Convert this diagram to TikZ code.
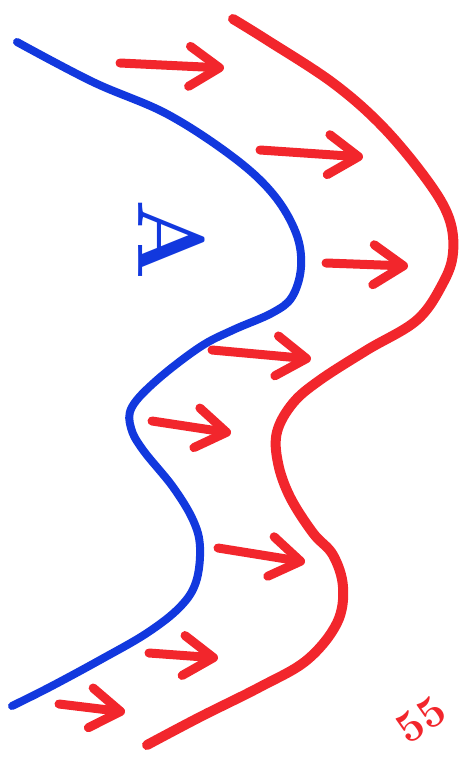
\documentclass[tikz,border=0pt]{standalone}
\usetikzlibrary{arrows.meta}
\definecolor{penblue}{RGB}{18,56,222}
\definecolor{penred}{RGB}{242,38,44}
\tikzset{
  bluepen/.style={draw=penblue,line width=8pt,line cap=round,line join=round},
  redpen/.style={draw=penred,line width=10pt,line cap=round,line join=round},
  flowarrow/.style={draw=penred,line width=9pt,line cap=round,line join=round,
    -{Straight Barb[length=30pt,width=40pt,line cap=round,line join=round]}}
}
\begin{document}
\begin{tikzpicture}[x=1pt,y=-1pt]
  \useasboundingbox (0,0) rectangle (467,761);

  % Blue boundary
  \draw[bluepen] plot[smooth,tension=0.6] coordinates {
    (17,42) (93,82) (167,114) (233,157) (273,194) (296,233) (301,267)
    (292,297) (272,313) (233,330) (200,347) (157,380) (132,407) (131,428)
    (143,450) (173,487) (193,520) (200,547) (196,582) (180,607) (147,633)
    (100,660) (50,687) (12,706)};

  % Red boundary
  \draw[redpen] plot[smooth,tension=0.6] coordinates {
    (233,19) (267,40) (333,83) (383,127) (427,180) (449,218) (453,253)
    (443,283) (417,320) (367,350) (320,380) (293,403) (277,432) (278,463)
    (290,497) (313,533) (333,555) (343,587) (337,623) (307,660) (260,687)
    (200,717) (147,745)};

  % Arrows
  \foreach \i/\sx/\sy/\ex/\ey in {1/120/63/224/68, 2/260/150/363/157,
      3/326/263/408/266, 4/212/350/311/359, 5/152/421/231/433,
      6/218/548/305/562, 7/149/653/218/658, 8/59/704/125/712}{
    \coordinate (s\i) at (\sx,\sy);
    \coordinate (e\i) at (\ex,\ey);
    \draw[flowarrow] (s\i) -- (e\i);
  }

  % Label
  \node[text=penblue, font=\bfseries\fontsize{95}{95}\selectfont, rotate=-90,
    inner sep=0pt] (regA) at (172,240) {A};

  % Cut-off note
  \node[text=penred, font=\bfseries\fontsize{44}{44}\selectfont, rotate=35,
    inner sep=0pt, anchor=north west] (note) at (392,722) {55};
\end{tikzpicture}
\end{document}
